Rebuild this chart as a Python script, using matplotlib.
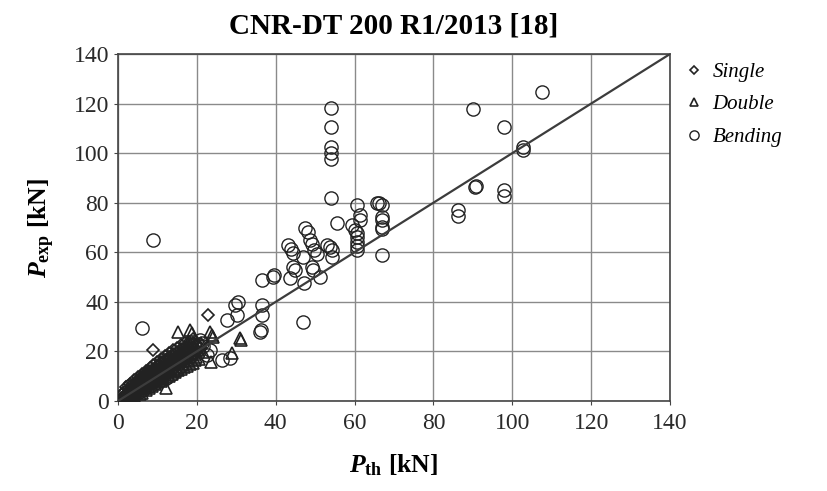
import numpy as np
import matplotlib.pyplot as plt

# (P_th, P_exp) pairs in kN
single_pts = [
    (1.2, 1.5), (1.8, 2.4), (2.0, 1.2), (2.3, 3.1), (2.6, 2.2), (2.9, 4.0), (3.1, 2.8), (3.3, 3.6),
    (3.5, 5.2), (3.7, 2.5), (3.9, 4.4), (4.1, 3.3), (4.2, 6.1), (4.4, 4.9), (4.6, 3.9), (4.8, 5.6),
    (5.0, 7.3), (5.1, 4.5), (5.3, 6.2), (5.5, 5.1), (5.6, 8.4), (5.8, 6.8), (6.0, 4.8), (6.1, 7.5),
    (6.3, 5.9), (6.5, 9.2), (6.6, 7.0), (6.8, 6.1), (7.0, 8.3), (7.1, 10.4), (7.3, 7.4), (7.5, 5.6),
    (7.6, 9.1), (7.8, 8.0), (8.0, 11.3), (8.1, 6.9), (8.3, 9.6), (8.5, 8.4), (8.7, 12.2), (8.8, 7.6),
    (9.0, 10.3), (9.0, 20.6), (9.2, 9.0), (9.4, 13.0), (9.6, 8.2), (9.8, 11.1), (10.0, 9.9),
    (10.2, 14.1), (10.4, 10.6), (10.6, 8.9), (10.8, 12.3), (11.0, 15.2), (11.2, 11.0), (11.5, 13.4),
    (11.7, 9.8), (12.0, 12.5), (12.3, 16.4), (12.5, 11.6), (12.8, 14.3), (13.0, 12.0), (13.3, 17.5),
    (13.6, 13.4), (14.0, 15.8), (14.3, 12.8), (14.6, 18.3), (15.0, 14.6), (15.5, 16.9), (16.0, 19.2),
    (16.5, 15.4), (17.0, 20.0), (17.5, 17.8), (18.0, 21.5), (19.0, 18.7), (20.0, 22.8), (22.9, 34.7),
    (2.0, 5.5), (3.0, 7.0), (4.0, 8.5), (5.0, 9.8), (6.0, 11.0), (7.0, 12.3), (8.0, 13.5),
    (9.0, 14.6), (10.0, 15.8), (11.0, 17.0), (12.0, 18.2), (13.0, 19.2), (14.0, 20.5), (15.0, 21.4),
    (16.0, 22.5), (17.0, 23.2), (18.0, 24.0), (19.0, 25.0),
    (1.0, 2.8), (2.5, 4.8), (3.6, 6.6), (4.7, 7.9), (5.9, 9.5), (6.9, 10.9), (7.8, 12.0),
    (8.9, 13.1), (9.9, 14.3), (10.9, 15.6), (11.9, 16.7), (12.9, 17.8), (13.9, 18.8), (14.9, 19.9),
    (15.9, 20.9), (16.9, 21.8), (17.9, 22.8), (18.9, 23.6),
]

double_pts = [
    (1.0, 0.8), (1.5, 1.9), (2.2, 1.6), (2.7, 3.3), (3.0, 2.0), (3.4, 4.3), (3.8, 3.0), (4.0, 5.0),
    (4.3, 3.6), (4.7, 5.8), (5.0, 4.1), (5.2, 6.6), (5.6, 5.4), (5.9, 7.6), (6.2, 5.2), (6.4, 8.0),
    (6.7, 6.5), (7.0, 9.0), (7.2, 6.2), (7.5, 8.7), (7.9, 7.1), (8.2, 10.2), (8.4, 7.8), (8.6, 9.5),
    (8.9, 11.5), (9.3, 8.6), (9.5, 10.8), (9.9, 12.6), (10.1, 9.2), (10.5, 11.7), (10.9, 13.8),
    (11.3, 10.4), (11.6, 12.9), (12.0, 14.9), (12.3, 5.1), (12.4, 11.5), (12.7, 13.6), (13.1, 16.0),
    (13.5, 12.3), (13.9, 14.8), (14.2, 17.2), (14.7, 13.5), (15.1, 15.9), (15.3, 28.0), (15.6, 18.6),
    (16.2, 14.8), (16.7, 17.4), (17.2, 19.6), (17.8, 16.2), (18.3, 28.6), (18.7, 27.3), (18.5, 19.0),
    (19.2, 21.3), (19.8, 17.8), (20.4, 20.5), (21.0, 23.5), (21.5, 19.6), (23.5, 15.9), (23.3, 28.0),
    (23.8, 26.6), (24.2, 26.0), (28.8, 19.2), (31.0, 25.3), (31.2, 24.5),
    (5.5, 3.0), (7.0, 4.6), (8.5, 6.0), (10.0, 7.6), (11.5, 9.0), (13.0, 10.2), (14.5, 11.8),
    (16.0, 13.0), (17.5, 14.2), (19.0, 15.5), (20.5, 16.8),
    (2.4, 0.9), (4.0, 1.9), (6.0, 3.4), (7.8, 5.4), (9.3, 6.8), (10.8, 8.2), (12.3, 9.6),
    (13.8, 11.0), (15.3, 12.4), (16.8, 13.6), (18.3, 15.0), (19.6, 16.4),
]

bending_pts = [
    (2.5, 2.0), (3.2, 4.6), (4.0, 2.6), (4.5, 6.4), (5.4, 3.6), (5.7, 7.2), (6.4, 4.5), (6.9, 9.6),
    (7.4, 6.8), (8.0, 5.9), (8.2, 10.8), (8.9, 9.2), (9.5, 7.4), (9.7, 12.4), (10.3, 10.1),
    (10.8, 8.4), (11.1, 13.3), (11.8, 11.9), (12.2, 9.4), (12.6, 15.0), (13.2, 13.1), (13.8, 10.8),
    (14.4, 16.3), (14.9, 12.4), (15.4, 17.8), (16.0, 14.0), (16.6, 20.0), (17.2, 16.6), (17.9, 21.8),
    (18.6, 18.2), (19.4, 23.0), (20.2, 19.5), (20.8, 24.6), (21.6, 22.0), (22.5, 18.6), (23.3, 20.6),
    (1.5, 3.0), (2.0, 3.6), (2.8, 6.2), (3.5, 5.8), (5.0, 7.8), (6.0, 8.8), (7.6, 11.4), (9.0, 12.0),
    (10.5, 13.6), (12.0, 15.8), (13.5, 16.6), (15.0, 18.8), (16.5, 19.4), (18.0, 20.6), (19.5, 21.6),
    (20.5, 22.4),
    (1.2, 1.0), (2.2, 2.6), (3.4, 3.2), (4.4, 4.2), (5.6, 6.0), (6.6, 7.8), (7.7, 8.9), (8.6, 10.6),
    (9.8, 11.0), (10.9, 12.6), (12.1, 14.0), (13.3, 14.8), (14.6, 15.6), (15.8, 17.2), (16.9, 18.4),
    (18.1, 19.0), (19.2, 20.1), (20.3, 21.0), (21.3, 23.6),
    (26.3, 16.5), (28.4, 17.2), (6.0, 29.3), (8.9, 65.0), (27.6, 32.7), (30.1, 34.7), (29.7, 38.7),
    (30.5, 40.0), (36.4, 38.7), (36.4, 34.7), (36.0, 28.0), (36.2, 28.6), (46.8, 32.0),
    (36.4, 48.8), (39.4, 50.1), (39.6, 50.8), (43.6, 49.5), (47.2, 47.5), (51.2, 49.9),
    (44.5, 54.2), (44.9, 52.8), (49.1, 54.2), (49.5, 52.8), (47.0, 58.2),
    (43.2, 63.0), (44.0, 61.5), (44.5, 59.7), (47.5, 69.6), (48.3, 68.0), (48.6, 65.0),
    (49.2, 63.5), (49.8, 61.0), (50.4, 59.5), (52.9, 62.9), (54.2, 60.9), (54.2, 58.2), (53.8, 62.2),
    (55.6, 71.9), (53.9, 81.8), (53.9, 97.5), (53.9, 99.9), (53.9, 102.6), (53.9, 110.4), (53.9, 118.3),
    (60.7, 79.1), (61.4, 75.0), (61.4, 73.0), (59.3, 71.0), (60.1, 69.0), (60.5, 67.6), (60.5, 66.0),
    (60.5, 64.3), (60.5, 62.6), (60.5, 61.0), (65.8, 79.7), (66.3, 80.0), (67.0, 79.0), (66.9, 74.3),
    (66.9, 73.0), (66.9, 70.3), (66.9, 69.3), (66.9, 58.9),
    (86.3, 77.0), (86.3, 74.7), (90.0, 117.7), (90.8, 86.7), (90.6, 86.2), (97.9, 110.7),
    (97.9, 85.1), (97.9, 82.8), (102.8, 102.6), (102.8, 101.2), (107.6, 124.8),
]

ticks = [0, 20, 40, 60, 80, 100, 120, 140]

plt.rcParams['font.family'] = 'Liberation Serif'
plt.rcParams['mathtext.fontset'] = 'custom'
plt.rcParams['mathtext.rm'] = 'Liberation Serif'
plt.rcParams['mathtext.bf'] = 'Liberation Serif:bold'
plt.rcParams['mathtext.bfit'] = 'Liberation Serif:italic:bold'
plt.rcParams['mathtext.it'] = 'Liberation Serif:italic'

fig = plt.figure(figsize=(8.28, 4.91), dpi=100)
ax = fig.add_axes([0.1425, 0.1833, 0.6667, 0.7067])

ec = '#222222'
s = np.array(single_pts)
d = np.array(double_pts)
b = np.array(bending_pts)
ax.plot(s[:, 0], s[:, 1], 'D', ms=6, mfc='none', mec=ec, mew=1.2, label='Single', zorder=3)
ax.plot(d[:, 0], d[:, 1], '^', ms=8, mfc='none', mec=ec, mew=1.2, label='Double', zorder=3)
ax.plot(b[:, 0], b[:, 1], 'o', ms=9.5, mfc='none', mec=ec, mew=1.0, label='Bending', zorder=3)

ax.plot([0, 140], [0, 140], color='#3c3c3c', lw=1.6, zorder=4)

ax.set_xlim(0, 140)
ax.set_ylim(0, 140)
ax.set_xticks(ticks)
ax.set_yticks(ticks)
ax.grid(True, color='#8a8a8a', lw=1.0)
ax.set_axisbelow(True)
for sp in ax.spines.values():
    sp.set_color('#444444')
    sp.set_linewidth(1.2)
ax.tick_params(direction='out', length=3, color='#444444', labelsize=17, labelcolor='#2a2a2a')
ax.tick_params(axis='x', pad=6)

ax.set_title('CNR-DT 200 R1/2013 [18]', fontsize=21, fontweight='bold', pad=15)
ax.set_xlabel(r'$\mathbfit{P}_{\mathbf{th}}$ [kN]', fontsize=18.5, fontweight='bold', labelpad=13)
ax.set_ylabel(r'$\mathbfit{P}_{\mathbf{exp}}$ [kN]', fontsize=18.5, fontweight='bold', labelpad=12)

leg = ax.legend(loc='upper left', bbox_to_anchor=(0.99, 1.03), frameon=False,
                prop={'style': 'italic', 'size': 15}, handletextpad=0.4, labelspacing=0.62,
                markerscale=0.7, handlelength=1.0)

fig.savefig('out.png', dpi=100)
